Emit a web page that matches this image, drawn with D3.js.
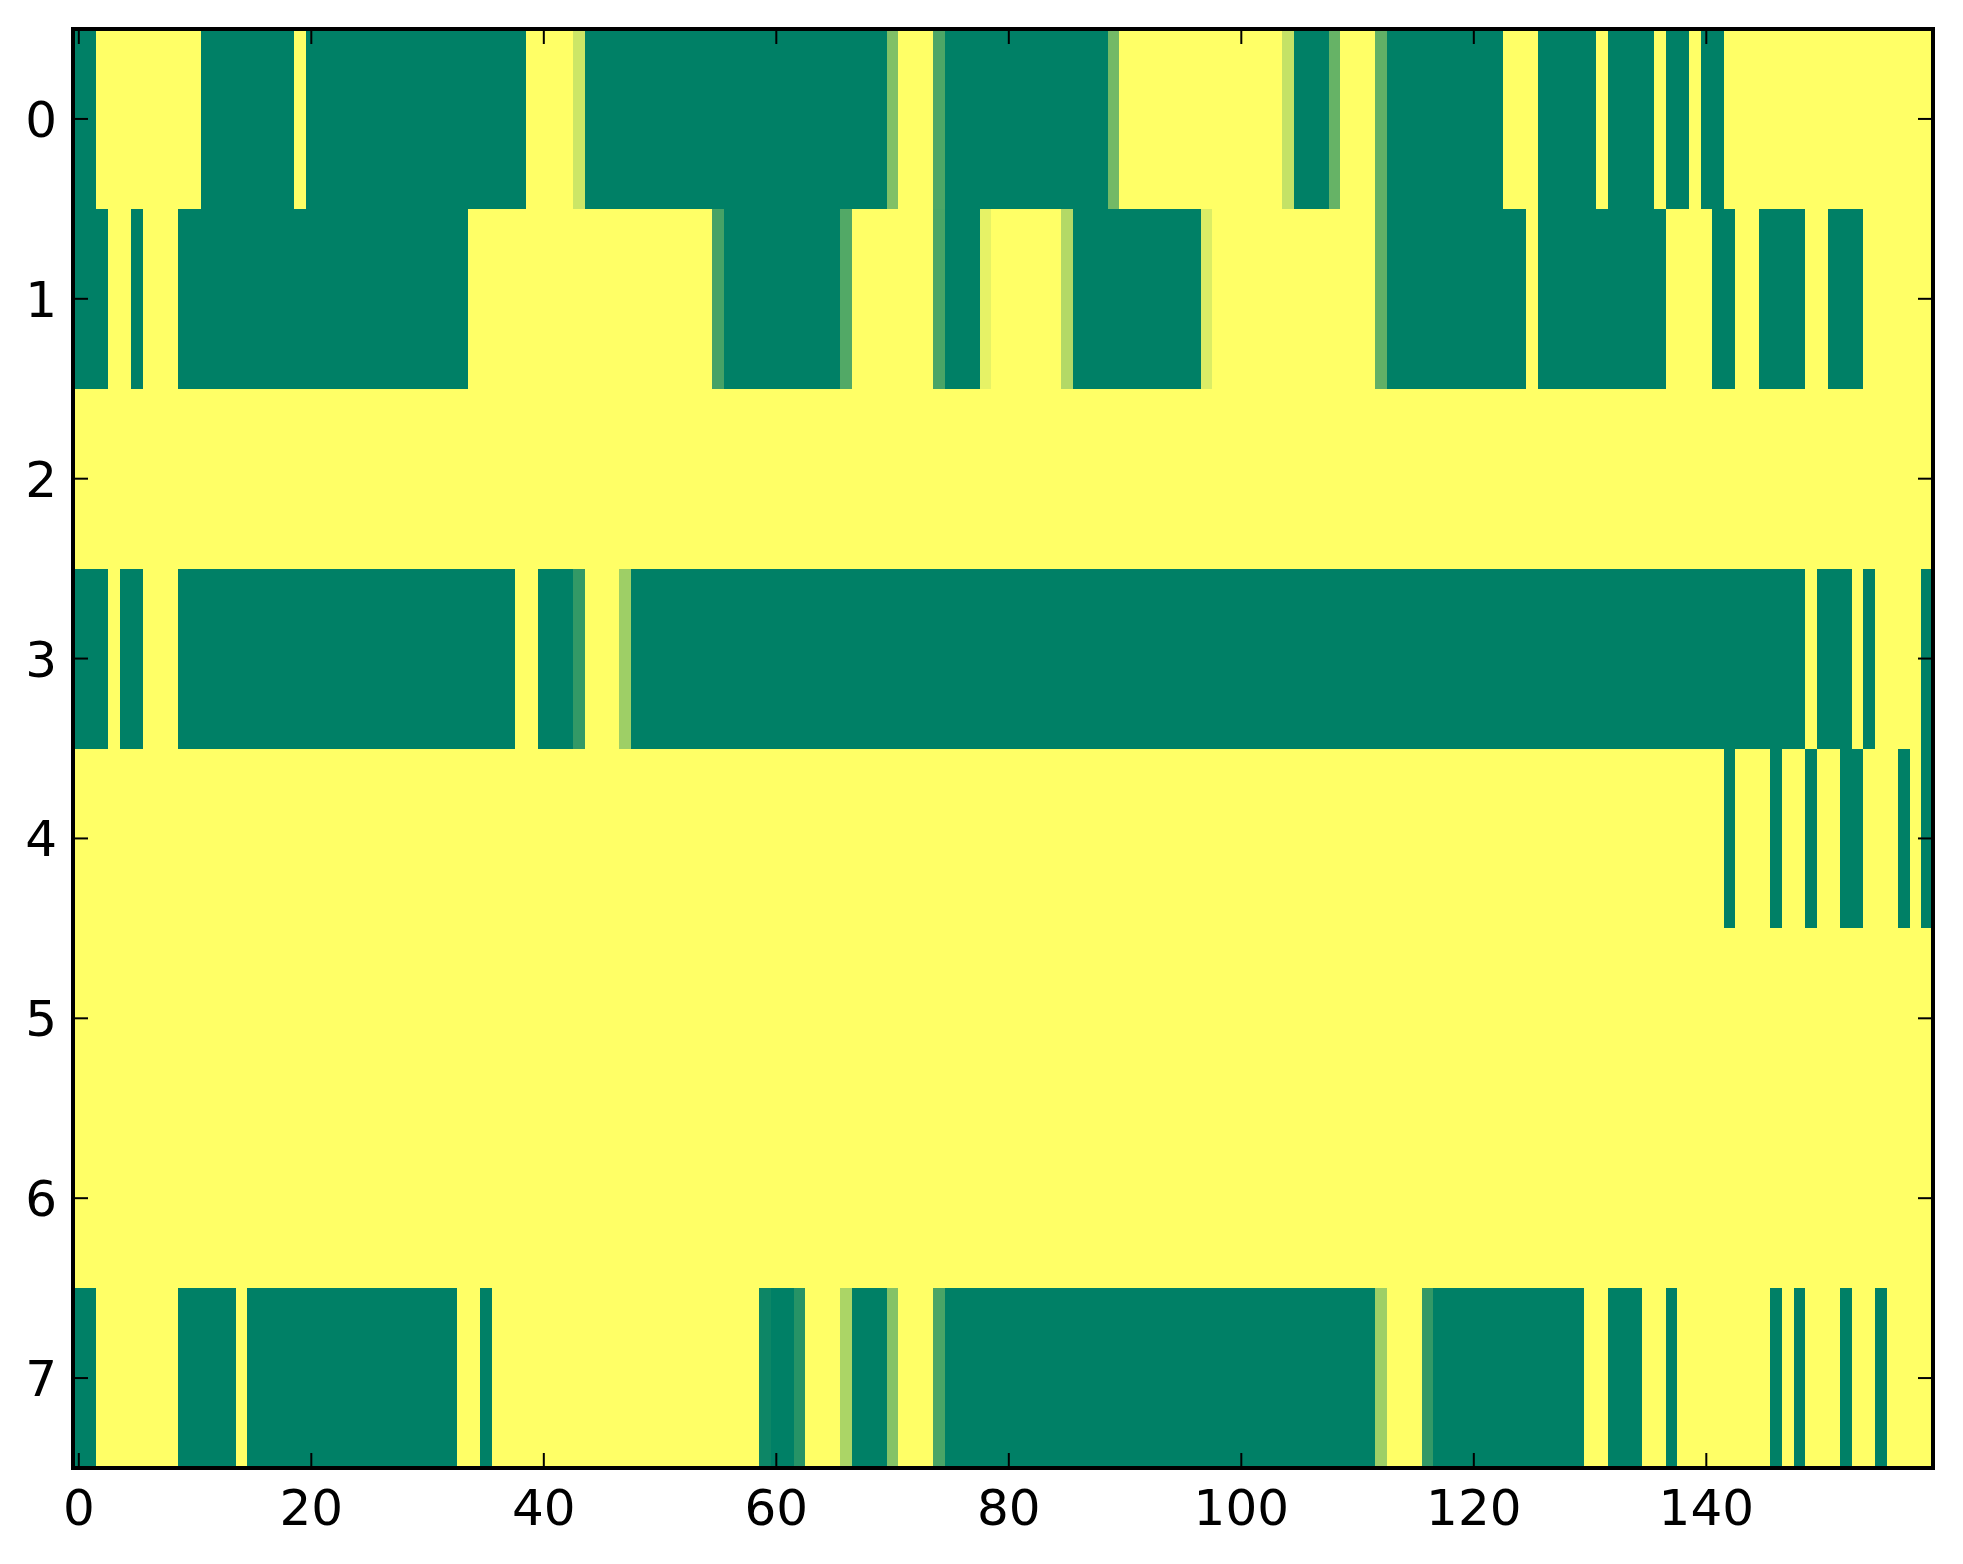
<!DOCTYPE html>
<html>
<head>
<meta charset="utf-8">
<script src="https://cdn.jsdelivr.net/npm/d3@7"></script>
<style>
    body { margin: 0; background: #fff; }
    svg { display: block; }
    text { font-family: 'DejaVu Sans', sans-serif; fill: #000; }
</style>
</head>
<body>
<div id="chart"></div>
<script>
const row0 = [[0,2],[1,9],[0,8],[1,1],[0,19],[1,4],[0.8,1],[0,26],[0.5,1],[1,3],[0.3,1],[0,14],[0.45,1],[1,14],[0.77,1],[0,3],[0.4,1],[1,3],[0.38,1],[0,10],[1,3],[0,5],[1,1],[0,4],[1,1],[0,2],[1,1],[0,2],[1,18]];
const row1 = [[0,3],[1,2],[0,1],[1,3],[0,25],[1,21],[0.27,1],[0,10],[0.32,1],[1,7],[0.29,1],[0,3],[0.9,1],[1,6],[0.7,1],[0,11],[0.86,1],[1,14],[0.38,1],[0,12],[1,1],[0,11],[1,4],[0,2],[1,2],[0,4],[1,2],[0,3],[1,6]];
const row2 = [[1,160]];
const row3 = [[0,3],[1,1],[0,2],[1,3],[0,29],[1,2],[0,3],[0.2,1],[1,3],[0.62,1],[0,101],[1,1],[0,3],[1,1],[0,1],[1,4],[0,1]];
const row4 = [[1,142],[0,1],[1,3],[0,1],[1,2],[0,1],[1,2],[0,2],[1,3],[0,1],[1,1],[0,1]];
const row5 = [[1,160]];
const row6 = [[1,160]];
const row7 = [[0,2],[1,7],[0,5],[1,1],[0,18],[1,2],[0,1],[1,23],[0.05,1],[0,2],[0.15,1],[1,3],[0.67,1],[0,3],[0.52,1],[1,3],[0.29,1],[0,37],[0.62,1],[1,3],[0.2,1],[0,13],[1,2],[0,3],[1,2],[0,1],[1,8],[0,1],[1,1],[0,1],[1,3],[0,1],[1,2],[0,1],[1,4]];

const rows = [row0, row1, row2, row3, row4, row5, row6, row7];
const xTicks = [0, 20, 40, 60, 80, 100, 120, 140];
const yTicks = [0, 1, 2, 3, 4, 5, 6, 7];

const W = 1963, H = 1564;
const plotL = 73, plotR = 1933, plotT = 29, plotB = 1468;

// expand runs into cells
const cells = [];
rows.forEach((runs, r) => {
    let c = 0;
    runs.forEach(([v, n]) => {
        for (let k = 0; k < n; k++) cells.push({ row: r, col: c++, value: v });
    });
});

const x = d3.scaleLinear().domain([-0.5, 159.5]).range([plotL, plotR]);
const y = d3.scaleLinear().domain([-0.5, 7.5]).range([plotT, plotB]);
// matplotlib "summer"
const color = d3.scaleLinear().domain([0, 1]).range(['#008066', '#ffff66']);

const svg = d3.select('#chart').append('svg').attr('width', W).attr('height', H);

const cw = x(1) - x(0);
const ch = y(1) - y(0);

svg.append('g')
    .selectAll('rect')
    .data(cells)
    .enter()
    .append('rect')
    .attr('x', d => x(d.col - 0.5))
    .attr('y', d => y(d.row - 0.5))
    .attr('width', cw + 0.6)
    .attr('height', ch + 0.6)
    .attr('fill', d => color(d.value))
    .attr('shape-rendering', 'crispEdges');

const tickLen = 15;
const ticks = svg.append('g').attr('stroke', '#000').attr('stroke-width', 2);

xTicks.forEach(t => {
    ticks.append('line').attr('x1', x(t)).attr('x2', x(t)).attr('y1', plotB).attr('y2', plotB - tickLen);
    ticks.append('line').attr('x1', x(t)).attr('x2', x(t)).attr('y1', plotT).attr('y2', plotT + tickLen);
});
yTicks.forEach(t => {
    ticks.append('line').attr('x1', plotL).attr('x2', plotL + tickLen).attr('y1', y(t)).attr('y2', y(t));
    ticks.append('line').attr('x1', plotR).attr('x2', plotR - tickLen).attr('y1', y(t)).attr('y2', y(t));
});

svg.append('rect')
    .attr('x', plotL)
    .attr('y', plotT)
    .attr('width', plotR - plotL)
    .attr('height', plotB - plotT)
    .attr('fill', 'none')
    .attr('stroke', '#000')
    .attr('stroke-width', 4);

svg.append('g')
    .selectAll('text')
    .data(xTicks)
    .enter()
    .append('text')
    .attr('x', d => x(d))
    .attr('y', plotB + 57)
    .attr('text-anchor', 'middle')
    .attr('font-size', 50)
    .text(d => d);

svg.append('g')
    .selectAll('text')
    .data(yTicks)
    .enter()
    .append('text')
    .attr('x', plotL - 16)
    .attr('y', d => y(d))
    .attr('dy', '0.36em')
    .attr('text-anchor', 'end')
    .attr('font-size', 50)
    .text(d => d);
</script>
</body>
</html>
